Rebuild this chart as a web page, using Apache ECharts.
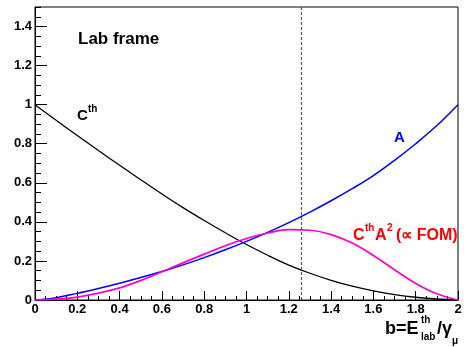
<!DOCTYPE html>
<html>
<head>
<meta charset="utf-8">
<script src="https://cdn.jsdelivr.net/npm/echarts@6/dist/echarts.min.js"></script>
<style>
  html, body { margin: 0; padding: 0; background: #fff; }
  #main { width: 466px; height: 347px; }
</style>
</head>
<body>
<div id="main"></div>
<script>
var chartDom = document.getElementById('main');
var myChart = echarts.init(chartDom);
var option;

// b = E_lab^th / gamma_mu
let bVals = [0, 0.1, 0.2, 0.3, 0.4, 0.5, 0.6, 0.7, 0.8, 0.9, 1.0,
             1.1, 1.2, 1.3, 1.4, 1.5, 1.6, 1.7, 1.8, 1.9, 2.0];
let cth = [1.0, 0.92, 0.842, 0.765, 0.69, 0.616, 0.543, 0.473, 0.407, 0.344, 0.284,
           0.229, 0.179, 0.137, 0.101, 0.071, 0.047, 0.028, 0.014, 0.005, 0];
let asym = [0, 0.012, 0.034, 0.059, 0.086, 0.115, 0.146, 0.18, 0.217, 0.257, 0.3,
            0.346, 0.396, 0.45, 0.508, 0.57, 0.637, 0.715, 0.80, 0.893, 1.0];
let fom = [0, 0.004, 0.015, 0.035, 0.062, 0.1, 0.145, 0.19, 0.235, 0.278, 0.315,
           0.343, 0.36, 0.357, 0.335, 0.292, 0.228, 0.155, 0.085, 0.032, 0];
let cutLine = 1.265;

let font = 'Liberation Sans, Arial, sans-serif';

function pairs(ys) {
  return bVals.map(function (b, i) { return [b, ys[i]]; });
}

function txt(x, y, s, size, color) {
  return {
    type: 'text', left: x, top: y, z: 10,
    style: {
      text: s, fill: color || '#000',
      font: 'bold ' + size + 'px ' + font
    }
  };
}

option = {
  animation: false,
  grid: {
    left: 35, right: 8, top: 7, bottom: 47,
    show: true, borderColor: '#000', borderWidth: 1
  },
  xAxis: {
    type: 'value', min: 0, max: 2, interval: 0.2,
    axisLine: { onZero: false, lineStyle: { color: '#000', width: 1 } },
    axisTick: { inside: true, length: 9, lineStyle: { color: '#000' } },
    minorTick: { show: true, splitNumber: 4, length: 4, lineStyle: { color: '#000' } },
    splitLine: { show: false },
    axisLabel: {
      color: '#000', fontWeight: 'bold', fontSize: 13, fontFamily: font, margin: 3,
      formatter: function (v) { return String(Math.round(v * 10) / 10); }
    }
  },
  yAxis: [
    {
      type: 'value', min: 0, max: 1.5, interval: 0.2,
      axisLine: { show: true, onZero: false, lineStyle: { color: '#000', width: 1 } },
      axisTick: { inside: true, length: 12, lineStyle: { color: '#000' } },
      splitLine: { show: false },
      axisLabel: {
        color: '#000', fontWeight: 'bold', fontSize: 13, fontFamily: font, margin: 3,
        showMaxLabel: false,
        formatter: function (v) { return String(Math.round(v * 10) / 10); }
      }
    },
    {
      type: 'value', min: 0, max: 1.5, interval: 0.05, position: 'left',
      axisLine: { show: false },
      axisTick: { inside: true, length: 6, lineStyle: { color: '#000' } },
      splitLine: { show: false },
      axisLabel: { show: false }
    }
  ],
  series: [
    {
      name: 'Cth', type: 'line', data: pairs(cth), smooth: 0.4,
      showSymbol: false,
      lineStyle: { color: '#000', width: 1.3 },
      markLine: {
        silent: true, symbol: 'none', label: { show: false },
        lineStyle: { color: '#555', type: [3, 2], width: 1.2 },
        data: [{ xAxis: cutLine }]
      }
    },
    {
      name: 'A', type: 'line', data: pairs(asym), smooth: 0.4,
      showSymbol: false,
      lineStyle: { color: '#0000ff', width: 1.5 }
    },
    {
      name: 'FOM', type: 'line', data: pairs(fom), smooth: 0.4,
      showSymbol: false,
      lineStyle: { color: '#ff00cc', width: 1.7 }
    }
  ],
  graphic: [
    txt(78, 31, 'Lab frame', 17),
    txt(77, 108, 'C', 15),
    txt(88, 104, 'th', 10),
    txt(394, 130, 'A', 15, '#0000ff'),
    txt(353, 228, 'C', 16, '#ff0000'),
    txt(365, 223, 'th', 10, '#ff0000'),
    txt(375, 228, 'A', 16, '#ff0000'),
    txt(387, 223, '2', 10, '#ff0000'),
    txt(396, 228, '(\u221d FOM)', 16, '#ff0000'),
    txt(385, 320, 'b=E', 18),
    txt(421, 315, 'th', 10),
    txt(421, 332, 'lab', 10),
    txt(437, 320, '/\u03b3', 18),
    txt(452, 336, '\u03bc', 10)
  ]
};

option && myChart.setOption(option);
</script>
</body>
</html>
